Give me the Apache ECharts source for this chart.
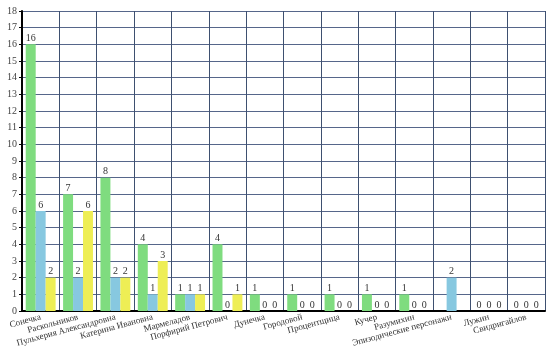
<!DOCTYPE html>
<html><head><meta charset="utf-8">
<script src="https://cdn.jsdelivr.net/npm/echarts@6/dist/echarts.min.js"></script>
<style>html,body{margin:0;padding:0;background:#fff}#c{width:552px;height:358px}</style>
</head><body><div id="c"></div>
<script>
const categories = ['Сонечка','Раскольников','Пульхерия Александровна','Катерина Ивановна','Мармеладов','Порфирий Петрович','Дунечка','Городовой','Процентщица','Кучер','Разумихин','Эпизодические персонажи','Лужин','Свидригайлов'];
const seriesA = [16,7,8,4,1,4,1,1,1,1,1,null,0,0];
const seriesB = [6,2,2,1,1,0,0,0,0,0,0,2,0,0];
const seriesC = [2,6,2,3,1,1,0,0,0,0,0,null,0,0];
const yTicks = {min:0, max:18, interval:1};
const font = '"Liberation Serif", "DejaVu Serif", serif';
const chart = echarts.init(document.getElementById('c'));
const lbl = {show:true, position:'top', distance:1, fontFamily:font, fontSize:10, color:'#333'};
function mk(name, data, color){
  return {name, type:'bar', data, barGap:'0%', barCategoryGap:'20%',
    itemStyle:{color}, label:lbl, animation:false};
}
chart.setOption({
  animation:false,
  grid:{left:22, right:7, top:11, bottom:47},
  xAxis:{type:'category', data:categories,
    axisLine:{lineStyle:{color:'#000', width:2}},
    axisTick:{show:false},
    axisLabel:{interval:0, rotate:15, fontFamily:font, fontSize:9, color:'#333', margin:6},
    splitLine:{show:true, interval:0, lineStyle:{color:'#3e5070', width:1}}},
  yAxis:{type:'value', min:yTicks.min, max:yTicks.max, interval:yTicks.interval,
    axisLine:{show:true, lineStyle:{color:'#000', width:2}},
    axisTick:{show:true, length:3, lineStyle:{color:'#000'}},
    axisLabel:{fontFamily:font, fontSize:10, color:'#444', margin:5},
    splitLine:{show:true, lineStyle:{color:'#56668a', width:1}}},
  series:[mk('A', seriesA, '#7fdc7f'), mk('B', seriesB, '#87c8e0'), mk('C', seriesC, '#eeee55')]
});
</script></body></html>
